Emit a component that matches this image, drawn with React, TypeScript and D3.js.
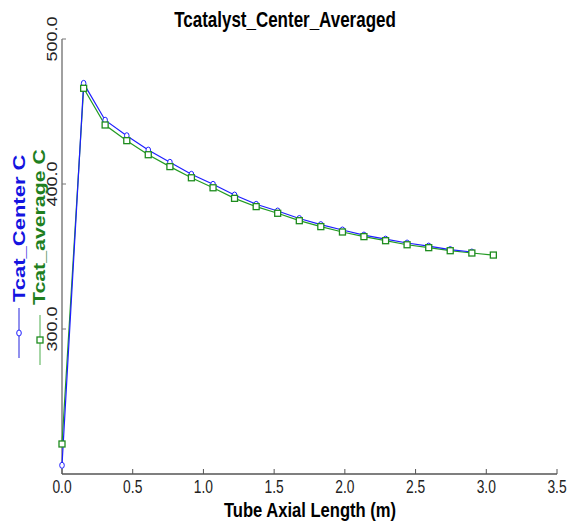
import React from 'react';
import * as d3 from 'd3';

const W = 568;
const H = 525;

const lengths = [0, 0.153, 0.305, 0.458, 0.61, 0.763, 0.915, 1.068, 1.22, 1.373, 1.525, 1.678, 1.83, 1.983, 2.135, 2.288, 2.44, 2.593, 2.745, 2.898, 3.05];
const tcatCenter = [206, 469.4, 444, 433.3, 423.4, 415, 406.7, 399.8, 392.4, 386, 381.4, 376.2, 372, 368.3, 364.8, 362, 359.3, 357.2, 354.8, 353.1];
const tcatAverage = [220.7, 466, 440.7, 429.9, 420.2, 412, 404.3, 397.4, 390.1, 384.4, 379.8, 374.7, 370.6, 366.9, 363.7, 360.9, 358.1, 356.1, 354, 352.4, 351];
const xTicks = [0, 0.5, 1.0, 1.5, 2.0, 2.5, 3.0, 3.5];
const yTicks = [300, 400, 500];

const SQ = 0.79; // horizontal squeeze of all glyphs
const FONT = 'Arial, "Liberation Sans", sans-serif';

export default function App() {
  const x = d3.scaleLinear().domain([0, 3.5]).range([62, 557]);
  const y = d3.scaleLinear().domain([200, 500]).range([474, 39]);

  const line = d3.line<[number, number]>()
    .x(d => x(d[0]))
    .y(d => y(d[1]));

  const bluePts: [number, number][] = tcatCenter.map((v, i) => [lengths[i], v]);
  const greenPts: [number, number][] = tcatAverage.map((v, i) => [lengths[i], v]);

  return (
    <svg width={W} height={H} style={{ position: 'absolute', left: 0, top: 0, background: '#fff' }} fontFamily={FONT}>
      {/* title */}
      <text transform={`translate(285,27) scale(${SQ},1)`} textAnchor="middle" fontSize={21.5} fontWeight="bold" fill="#000">
        Tcatalyst_Center_Averaged
      </text>

      {/* axes */}
      <line x1={x(0)} x2={x(0)} y1={y(500)} y2={y(200)} stroke="#a0a0a0" strokeWidth={2} />
      {yTicks.map(t => (
        <g key={t}>
          <line x1={x(0)} x2={x(0) + 4} y1={y(t)} y2={y(t)} stroke="#777" strokeWidth={1} />
          <text transform={`translate(57,${y(t)}) scale(${SQ},1) rotate(-90)`} textAnchor="middle" fontSize={18} fill="#222">
            {t.toFixed(1)}
          </text>
        </g>
      ))}
      <line x1={x(0)} x2={x(3.5)} y1={y(200)} y2={y(200)} stroke="#555" strokeWidth={1.5} />
      {xTicks.map(t => (
        <g key={t}>
          <line x1={x(t)} x2={x(t)} y1={y(200)} y2={y(200) - 5} stroke="#555" strokeWidth={1} />
          <text transform={`translate(${x(t)},493) scale(${SQ},1)`} textAnchor="middle" fontSize={17.5} fill="#222">
            {t.toFixed(1)}
          </text>
        </g>
      ))}
      <text transform={`translate(310,517) scale(${SQ},1)`} textAnchor="middle" fontSize={21} fontWeight="bold" fill="#000">
        Tube Axial Length (m)
      </text>

      {/* series */}
      <path d={line(greenPts) || ''} fill="none" stroke="#239b23" strokeWidth={1.2} />
      <path d={line(bluePts) || ''} fill="none" stroke="#1e1eff" strokeWidth={1.2} />
      {bluePts.map((d, i) => (
        <ellipse key={'b' + i} cx={x(d[0])} cy={y(d[1])} rx={2.3} ry={3} fill="#fff" stroke="#2020ff" strokeWidth={1} />
      ))}
      {greenPts.map((d, i) => (
        <rect key={'g' + i} x={x(d[0]) - 3} y={y(d[1]) - 3} width={6} height={6} fill="#fff" stroke="#1e8c1e" strokeWidth={1.3} />
      ))}

      {/* legend */}
      <line x1={19} x2={19} y1={308} y2={358} stroke="#2222dd" strokeWidth={1} />
      <ellipse cx={19} cy={333} rx={2.3} ry={3} fill="#fff" stroke="#2020ff" strokeWidth={1} />
      <text transform={`translate(24.5,302) scale(${SQ},1) rotate(-90)`} fontSize={22} fontWeight="bold" fill="#1414e0">
        Tcat_Center C
      </text>
      <line x1={40} x2={40} y1={315} y2={365} stroke="#88c888" strokeWidth={1.5} />
      <rect x={37} y={337} width={6} height={6} fill="#fff" stroke="#1e8c1e" strokeWidth={1.3} />
      <text transform={`translate(44.5,305) scale(${SQ},1) rotate(-90)`} fontSize={21.3} fontWeight="bold" fill="#1f7f1f">
        Tcat_average C
      </text>
    </svg>
  );
}
